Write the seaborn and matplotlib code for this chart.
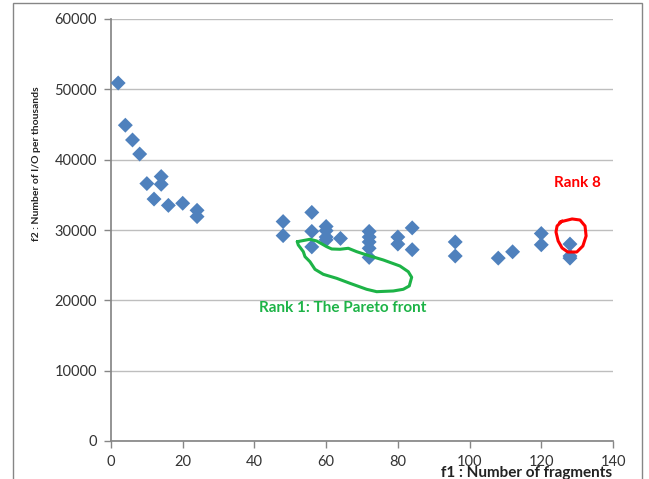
import matplotlib
matplotlib.use("Agg")
import pandas as pd
import matplotlib.pyplot as plt
import seaborn as sns
from matplotlib.patches import Rectangle

# Solutions: f1 = number of fragments, f2 = number of I/O (per thousands)
f1_fragments = [2, 4, 6, 8, 10, 12, 14, 14, 16, 20, 24, 24,
                48, 48, 56, 56, 56, 60, 60, 60, 60, 64,
                72, 72, 72, 72, 72, 80, 80, 84, 84,
                96, 96, 108, 112, 120, 120, 128, 128, 128]
f2_io = [50900, 44900, 42800, 40800, 36600, 34400, 37600, 36500, 33500, 33800, 32800, 31900,
         31200, 29200, 32500, 29800, 27600, 30500, 29900, 29000, 28600, 28800,
         29800, 29000, 28300, 27400, 26100, 29000, 28000, 30300, 27200,
         28300, 26300, 26000, 26900, 29500, 27900, 28000, 26300, 26000]

# hand drawn annotations (data coordinates)
pareto_loop_x = [51.95, 55.49, 57.36, 60.15, 61.55, 63.86, 66.18, 68.52, 71.30, 75.93, 80.59, 82.91,
                 83.85, 83.18, 81.51, 78.72, 74.09, 71.30, 66.65, 62.94, 59.20, 56.89, 55.49,
                 54.10, 53.63, 52.23, 51.95]
pareto_loop_y = [28340, 28680, 28440, 27630, 27300, 27260, 27400, 26920, 26450, 25740, 24880, 24070,
                 23280, 22040, 21570, 21330, 21230, 21570, 22420, 23130, 23700, 24410, 25490,
                 26210, 26920, 27870, 28340]
rank8_ring_x = [125.2, 128.6, 130.8, 132.2, 132.5, 131.6, 129.9, 127.4, 125.8, 124.7, 124.1, 124.4, 125.8]
rank8_ring_y = [31140, 31570, 31420, 30570, 29150, 27730, 26870, 26870, 27440, 28440, 29720, 30570, 31280]

df = pd.DataFrame({"f1": f1_fragments, "f2": f2_io})

sns.set_theme(style="white")
plt.rcParams["font.family"] = ["Lato", "DejaVu Sans"]

fig = plt.figure(figsize=(6.49, 4.79), dpi=100)
ax = fig.add_axes([111 / 649, 38 / 479, 502 / 649, 422 / 479])

sns.scatterplot(data=df, x="f1", y="f2", marker="D", s=58, color="#4F81BD",
                edgecolor="none", ax=ax, zorder=3)

ax.plot(pareto_loop_x, pareto_loop_y, color="#1DB347", lw=2.2, zorder=4)
ax.plot(rank8_ring_x, rank8_ring_y, color="#FF0000", lw=2.2, zorder=4)
ax.text(64.6, 18900, "Rank 1: The Pareto front", color="#1DB347", fontsize=11,
        fontweight="bold", ha="center", va="center")
ax.text(130, 36700, "Rank 8", color="#FF0000", fontsize=11,
        fontweight="bold", ha="center", va="center")

ax.set_xlim(0, 140)
ax.set_ylim(0, 60000)
ax.set_xticks(range(0, 141, 20))
ax.set_yticks(range(0, 60001, 10000))
ax.yaxis.grid(True, color="#BEBEBE", lw=1)
ax.set_axisbelow(True)
for s in ["top", "right"]:
    ax.spines[s].set_visible(False)
for s in ["left", "bottom"]:
    ax.spines[s].set_color("#868686")
ax.tick_params(axis="both", which="both", direction="out", length=5, width=1,
               color="#868686", labelsize=10.5, labelcolor="#333333", pad=5,
               left=True, bottom=True)
ax.set_xlabel("")
ax.set_ylabel("")

fig.text(37 / 649, 1 - 164 / 479, "f2 : Number of I/O per thousands", fontsize=7.5,
         fontweight="bold", color="#222222", rotation=90, ha="center", va="center")
fig.text(612 / 649, 1 - 473 / 479, "f1 : Number of fragments", fontsize=11,
         fontweight="bold", color="#222222", ha="right", va="center")

# outer chart frame
fig.patches.append(Rectangle((13 / 649, -0.05), 629 / 649, 1.05 - 3 / 479, transform=fig.transFigure,
                             fill=False, edgecolor="#868686", lw=1))

fig.savefig("out.png", dpi=100)
